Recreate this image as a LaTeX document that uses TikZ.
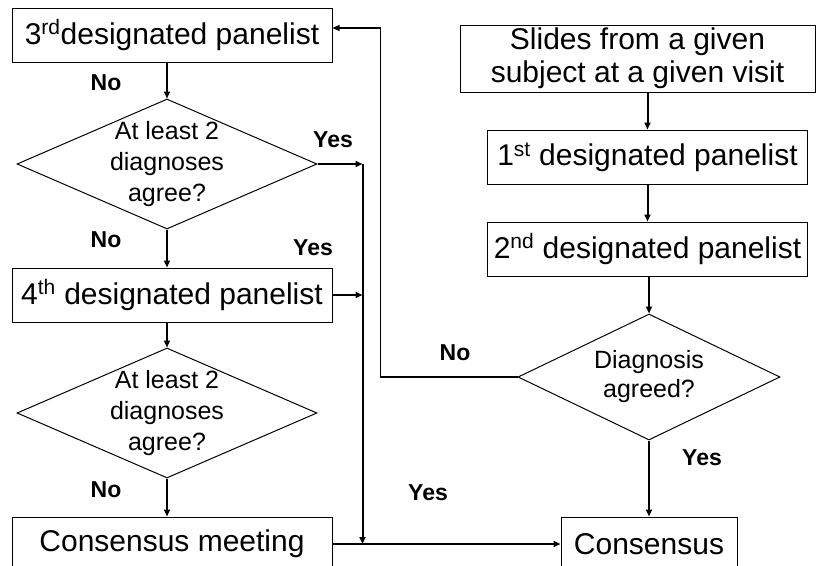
\documentclass[tikz,border=0pt]{standalone}
\usepackage{fontspec}
\setmainfont{Liberation Sans}
\usetikzlibrary{shapes, positioning, arrows.meta}

\begin{document}
\begin{tikzpicture}[x=1pt, y=-1pt, node distance=37pt, >={Triangle[length=7pt,width=6pt]}]
\tikzstyle{panel}=[draw, rectangle, line width=1pt, minimum width=320pt, minimum height=54pt, inner sep=2pt, font=\fontsize{30}{33}\selectfont]
\tikzstyle{decision}=[draw, diamond, line width=1pt, minimum width=300pt, minimum height=130pt, inner sep=0pt]
\tikzstyle{qtext}=[align=center, font=\fontsize{25}{31}\selectfont]
\tikzstyle{answer}=[font=\fontsize{23}{25}\selectfont\bfseries]
\tikzstyle{flow}=[->, line width=2pt]
\path[use as bounding box, fill=white] (0,0) rectangle (816,565);
\clip (0,0) rectangle (816,565);

% left column
\node[panel] (p3) at (172,35) {3\textsuperscript{rd}designated panelist};
\node[decision, label={[qtext]center:At least 2\\diagnoses\\agree?}] (d1) [below=36pt of p3, xshift=-5pt] {};
\node[panel] (p4) [below=38pt of d1, xshift=5pt] {4\textsuperscript{th} designated panelist};
\node[decision, label={[qtext]center:At least 2\\diagnoses\\agree?}] (d2) [below=25pt of p4, xshift=-5pt] {};
\node[panel] (cm) [below=38pt of d2, xshift=5pt] {Consensus meeting};

% right column
\node[panel, minimum width=355pt, minimum height=67pt, align=center] (slides) at (637.5,58.5) {Slides from a given\\subject at a given visit};
\node[panel] (p1) [below=of slides, xshift=10pt] {1\textsuperscript{st} designated panelist};
\node[panel] (p2) [below=of p1] {2\textsuperscript{nd} designated panelist};
\node[decision, minimum width=262pt, minimum height=126pt, label={[qtext, font=\fontsize{25}{29}\selectfont]center:Diagnosis\\agreed?}] (d3) [below=of p2, xshift=1.5pt] {};
\node[panel, minimum width=176pt] (cons) [below=76pt of d3] {Consensus};

\coordinate (j1) at ([xshift=45pt]d1.east);
\coordinate (j2) at (j1 |- cm.east);

% answers
\node[answer] (no1) at (106,83) {No};
\node[answer] (yes1) at (333,140) {Yes};
\node[answer] (no2) at (106,240) {No};
\node[answer] (yes2) at (313,248) {Yes};
\node[answer] (no3) at (106,490) {No};
\node[answer] (yes3) at (428,493) {Yes};
\node[answer] (no4) at (455,353) {No};
\node[answer] (yes4) at (702,458) {Yes};

\path[flow]
(d1.north |- p3.south) edge (d1.north)
(d1.east) edge (j1)
(j1) edge (j2)
(d1.south) edge (d1.south |- p4.north)
(p4.east) edge (p4.east -| j1)
(d2.north |- p4.south) edge (d2.north)
(d2.south) edge (d2.south |- cm.north)
(cm.east) edge (cm.east -| cons.west)
(p1.north |- slides.south) edge (p1.north)
(p1) edge (p2)
(d3.north |- p2.south) edge (d3.north)
(d3.south) edge (d3.south |- cons.north);

\draw[->, line width=1.2pt] (d3.west) -| ([xshift=48pt, yshift=7pt]p3.east) -- ([yshift=7pt]p3.east);
\end{tikzpicture}
\end{document}
